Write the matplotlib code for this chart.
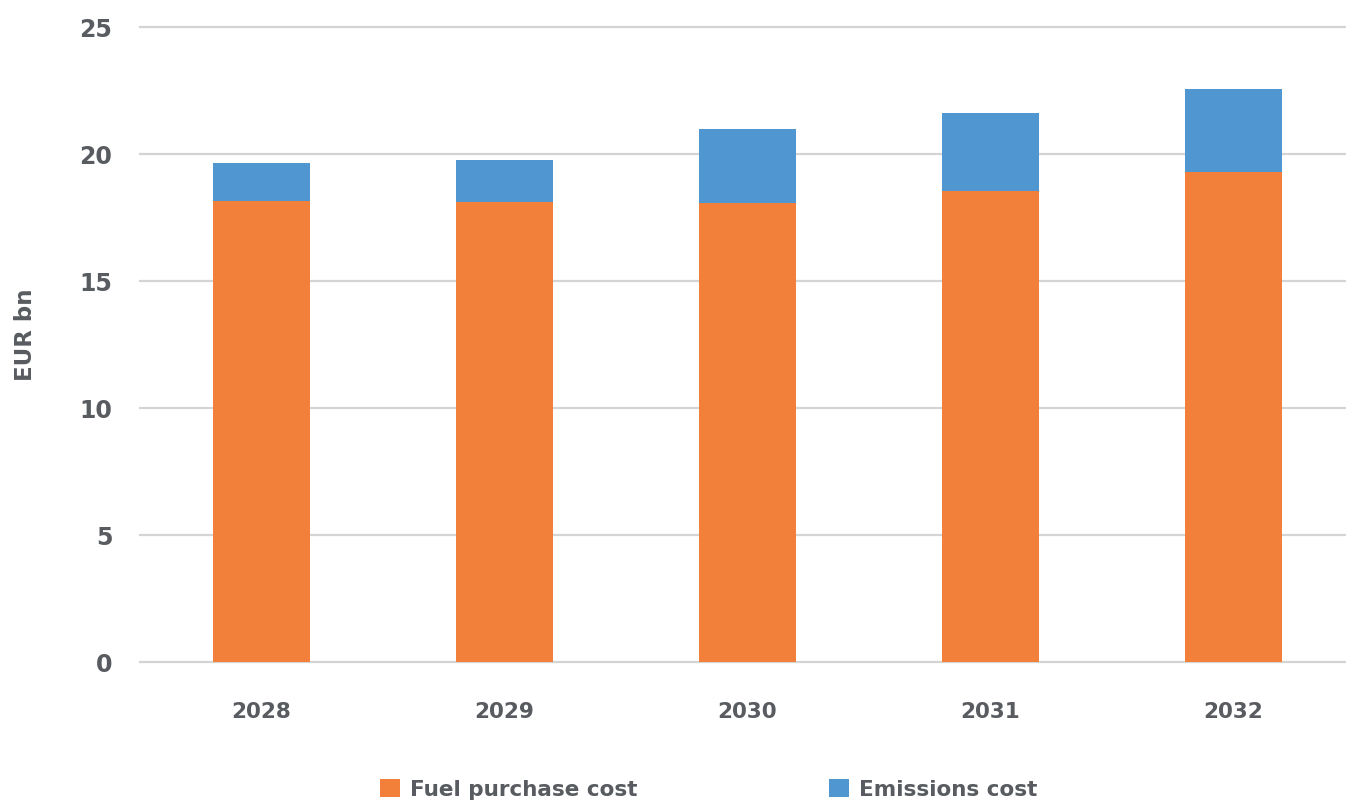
import matplotlib
matplotlib.use("Agg")
import matplotlib.pyplot as plt
import numpy as np

# EUR bn per year
years = ["2028", "2029", "2030", "2031", "2032"]
fuel_cost = [18.14, 18.10, 18.04, 18.52, 19.26]
emissions_cost = [1.49, 1.65, 2.93, 3.09, 3.27]
y_ticks = [0, 5, 10, 15, 20, 25]

ORANGE = "#F3803A"
BLUE = "#5096D1"
TEXT = "#585B5F"
GRID = "#D4D4D4"

plt.rcParams["font.family"] = ["DejaVu Sans"]
plt.rcParams["font.weight"] = "bold"

W, H = 1346, 803
fig = plt.figure(figsize=(W / 100, H / 100), dpi=100)
ax = fig.add_axes([140 / W, (H - 663) / H, (1355 - 140) / W, 635.5 / H])

x = np.arange(len(years))
b1 = ax.bar(x, fuel_cost, width=0.4, color=ORANGE, zorder=2)
b2 = ax.bar(x, emissions_cost, width=0.4, bottom=fuel_cost, color=BLUE, zorder=2)

ax.set_xlim(-0.5, len(years) - 0.5)
ax.set_ylim(0, 25)
ax.set_yticks(y_ticks)
ax.set_xticks(x)
ax.set_xticklabels(years)

ax.grid(axis="y", color=GRID, lw=1.6)
for gl in ax.get_ygridlines():
    gl.set_clip_on(False)
ax.set_axisbelow(True)
for s in ax.spines.values():
    s.set_visible(False)

ax.tick_params(axis="y", length=0, pad=20, labelsize=17, labelcolor=TEXT)
ax.tick_params(axis="x", length=0, pad=28, labelsize=15.5, labelcolor=TEXT)
for lab in ax.get_xticklabels() + ax.get_yticklabels():
    lab.set_fontweight("bold")

fig.text(26 / W, 1 - 335 / H, "EUR bn", rotation=90, ha="center", va="center",
         fontsize=16.5, fontweight="bold", color=TEXT)

# two legend entries placed separately along the bottom
for handle, label, xpos in [(b1, "Fuel purchase cost", 380),
                            (b2, "Emissions cost", 829)]:
    fig.legend([handle], [label], loc="center left",
               bbox_to_anchor=(xpos / W, 1 - 790 / H),
               frameon=False, borderpad=0, borderaxespad=0,
               handlelength=0.93, handleheight=0.93, handletextpad=0.45,
               prop={"size": 15.5, "weight": "bold"}, labelcolor=TEXT)

fig.savefig("out.png", dpi=100)
